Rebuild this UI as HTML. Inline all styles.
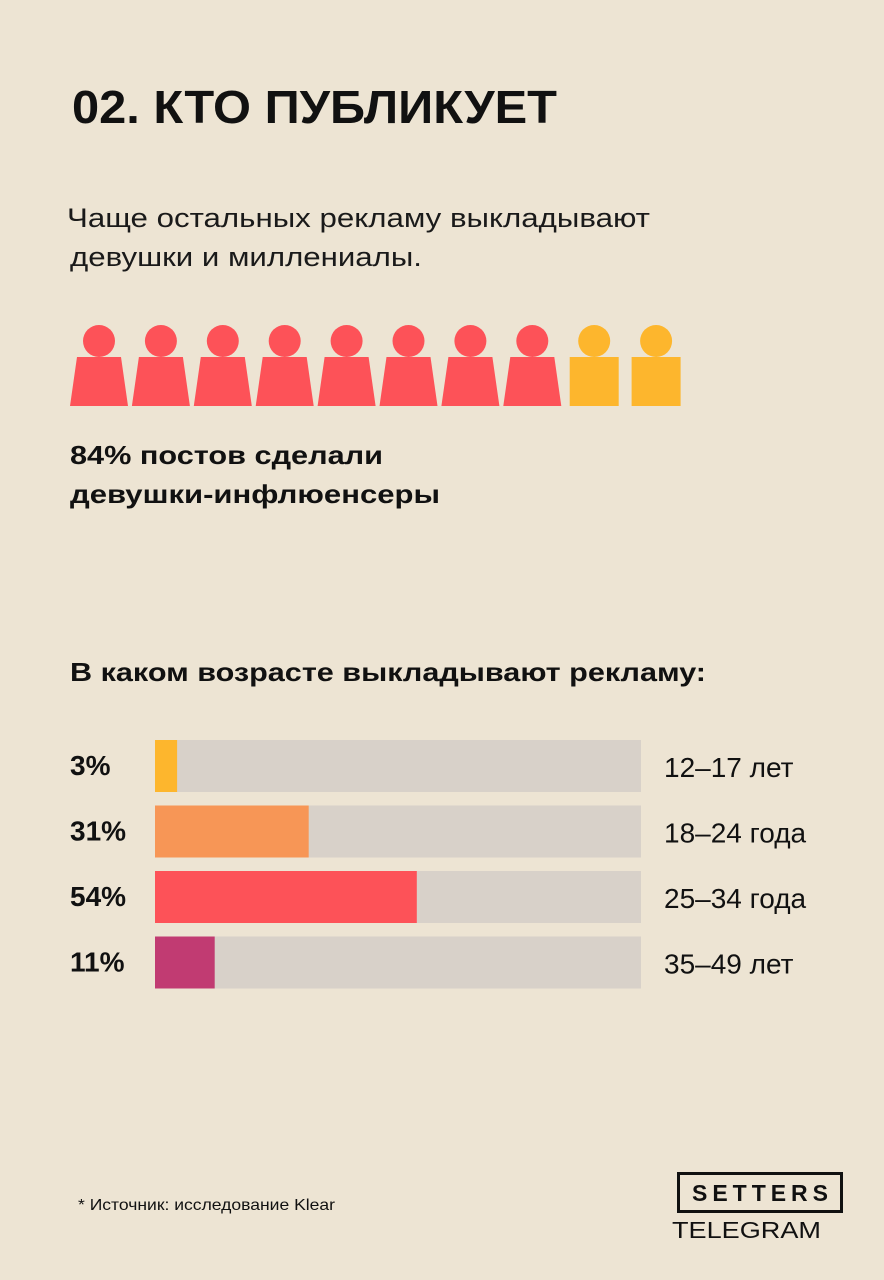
<!DOCTYPE html>
<html><head><meta charset="utf-8"><style>
html,body{margin:0;padding:0;background:#ede4d3;}
svg{display:block;font-family:"Liberation Sans","DejaVu Sans",sans-serif;}
</style></head><body>
<svg width="884" height="1280" viewBox="0 0 884 1280">
<rect x="0" y="0" width="884" height="1280" fill="#ede4d3"/>
<text x="72" y="123" font-size="46" font-weight="bold" fill="#111" textLength="485" lengthAdjust="spacingAndGlyphs">02. КТО ПУБЛИКУЕТ</text>
<text x="67" y="227" font-size="27" fill="#1a1a1a" textLength="583" lengthAdjust="spacingAndGlyphs">Чаще остальных рекламу выкладывают</text>
<text x="70" y="266" font-size="27" fill="#1a1a1a" textLength="352" lengthAdjust="spacingAndGlyphs">девушки и миллениалы.</text>
<g id="people"></g>
<text x="70" y="464" font-size="26" font-weight="bold" fill="#111" textLength="313" lengthAdjust="spacingAndGlyphs">84% постов сделали</text>
<text x="70" y="503" font-size="26" font-weight="bold" fill="#111" textLength="370" lengthAdjust="spacingAndGlyphs">девушки-инфлюенсеры</text>
<text x="70" y="681" font-size="26" font-weight="bold" fill="#111" textLength="636" lengthAdjust="spacingAndGlyphs">В каком возрасте выкладывают рекламу:</text>
<g id="bars"></g>
<text x="78" y="1210" font-size="16" fill="#111" textLength="257" lengthAdjust="spacingAndGlyphs">* Источник: исследование Klear</text>
<rect x="678.5" y="1173.5" width="163" height="38" fill="none" stroke="#111" stroke-width="3"/>
<text x="692" y="1201" font-size="23" font-weight="bold" fill="#111" textLength="136" lengthAdjust="spacing">SETTERS</text>
<text x="672" y="1238" font-size="23" fill="#111" textLength="149" lengthAdjust="spacingAndGlyphs">TELEGRAM</text>
</svg>
<script>
const peopleColors = ["#fd5258","#fd5258","#fd5258","#fd5258","#fd5258","#fd5258","#fd5258","#fd5258","#fdb62d","#fdb62d"];
const femaleFlags = [1,1,1,1,1,1,1,1,0,0];
const ageCategories = ["12–17 лет","18–24 года","25–34 года","35–49 лет"];
const ageValues = [3,31,54,11];
const ageValueLabels = ["3%","31%","54%","11%"];
const barColors = ["#fdb62d","#f79656","#fd5258","#c13b72"];

const NS="http://www.w3.org/2000/svg";
function mk(tag,attrs,parent){const e=document.createElementNS(NS,tag);for(const k in attrs)e.setAttribute(k,attrs[k]);parent.appendChild(e);return e;}

const pg=document.getElementById('people');
peopleColors.forEach((c,i)=>{
  const cx=99+i*61.9;
  const g=mk('g',{},pg);
  
  
  mk('circle',{cx:cx,cy:341,r:16,fill:c},g);
  if(femaleFlags[i]){
    mk('polygon',{points:`${cx-22},357 ${cx+22},357 ${cx+29},406 ${cx-29},406`,fill:c},g);
  } else {
    mk('rect',{x:cx-24.5,y:357,width:49,height:49,fill:c},g);
  }
});

const bg=document.getElementById('bars');
const x0=155, trackW=486;
function xScale(v){return 8+v*4.7;}
function yRow(i){return 740+i*65.5;}
ageValues.forEach((v,i)=>{
  const y=yRow(i);
  const t=mk('rect',{x:x0,y:y,width:trackW,height:52,fill:"#d8d1c9"},bg);
  
  
  const b=mk('rect',{x:x0,y:y,width:xScale(v),height:52,fill:barColors[i]},bg);
  
  
  const l=mk('text',{x:70,y:y+35,'font-size':28,'font-weight':'bold',fill:'#111'},bg);
  l.textContent=ageValueLabels[i];
  
  
  const r=mk('text',{x:664,y:y+37,'font-size':28,fill:'#111'},bg);
  r.textContent=ageCategories[i];
  
  
});
</script>
</body></html>
